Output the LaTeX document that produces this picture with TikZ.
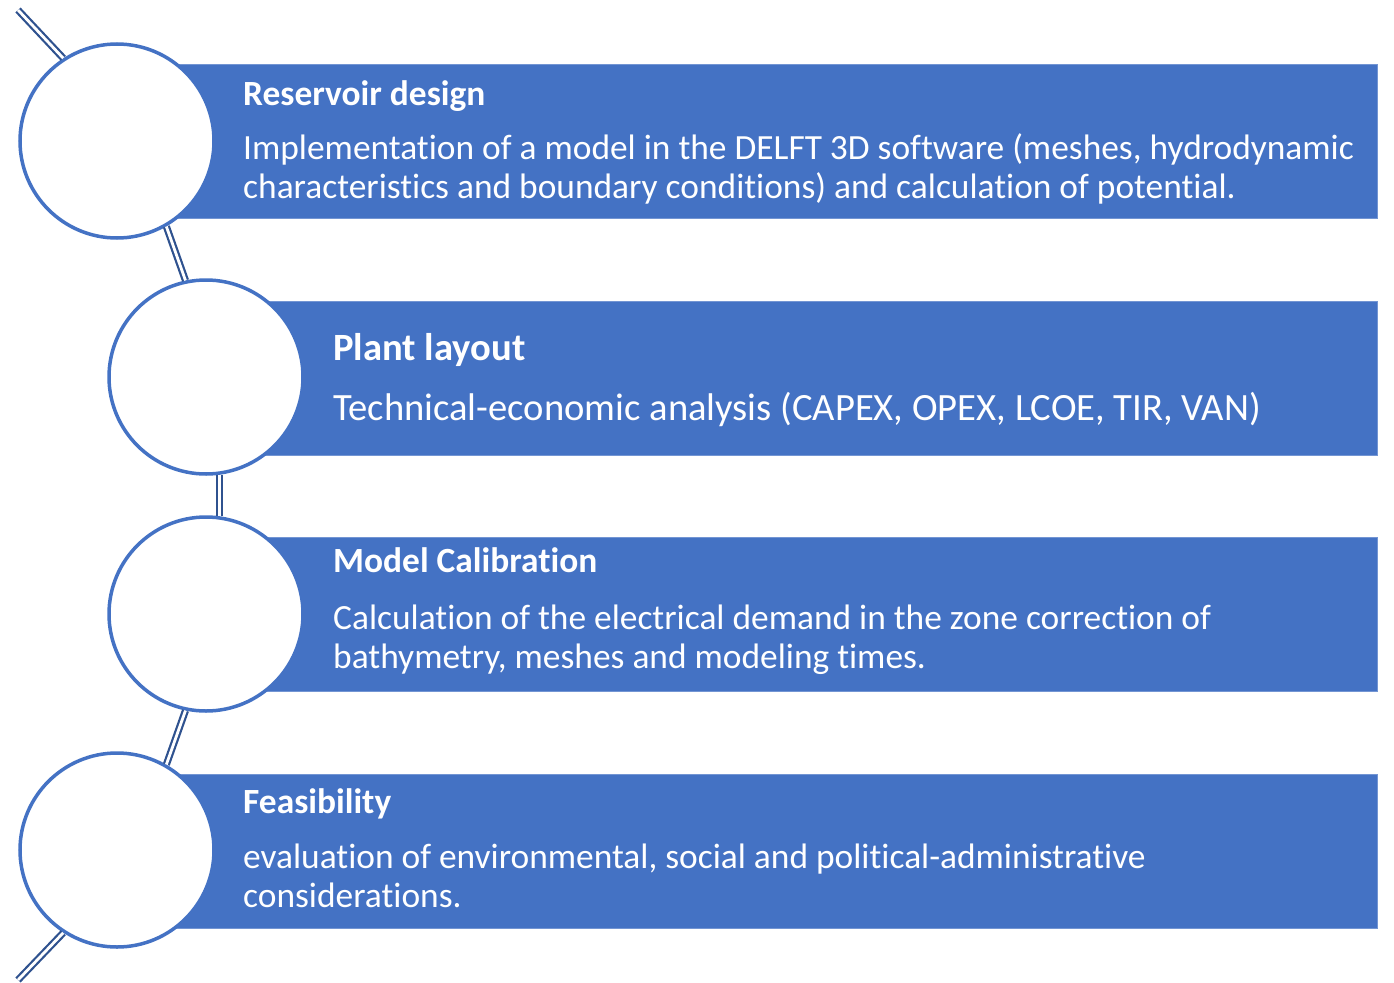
\documentclass[tikz,border=0pt]{standalone}
\usepackage{fontspec}
\setmainfont{Carlito}[RawFeature={-liga;-clig;-dlig;-calt;-rlig}]
\definecolor{acc}{HTML}{4472C4}
\definecolor{conn}{HTML}{2F528F}
\begin{document}
\begin{tikzpicture}[x=1pt,y=-1pt,
  bar/.style={fill=acc, draw=acc!75!white, line width=0.8pt, inner sep=0, minimum height=154pt, anchor=north west},
  disc/.style={circle, draw=acc, fill=white, line width=3.5pt, minimum size=194pt, inner sep=0},
  link/.style={draw=conn, line width=2.2pt, double=white, double distance=2.8pt},
  ttl/.style={text=white, font=\fontsize{35.4}{39}\selectfont\bfseries, anchor=base west, inner sep=0},
  txt/.style={text=white, font=\fontsize{35.4}{39}\selectfont, anchor=base west, inner sep=0, align=left},
  big/.style={font=\fontsize{38.6}{42}\selectfont},
  bigb/.style={font=\fontsize{38.6}{42}\selectfont\bfseries}]
\useasboundingbox (0,0) rectangle (1394,982);
% bars
\node[bar, minimum width=1260pt] (r1) at (117,64) {};
\node[bar, minimum width=1171pt] (r2) at (206,301) {};
\node[bar, minimum width=1171pt] (r3) at (206,537) {};
\node[bar, minimum width=1260pt] (r4) at (117,774) {};
% free ends
\coordinate (top) at (18,10);
\coordinate (bot) at (18,980);
% circles
\node[disc] (c1) at (117,141) {};
\node[disc] (c2) at (206,377) {};
\node[disc] (c3) at (206,614) {};
\node[disc] (c4) at (117,850) {};
% connectors
\draw[link] (top) -- (c1.123);
\draw[link] (c1.-60) -- (c2.102);
\draw[link] (c2.-82) -- (c3.82);
\draw[link] (c3.-102) -- (c4.60);
\draw[link] (c4.-123) -- (bot);
% texts (multi-line nodes: base = last line)
\node[ttl] (t1) at (243,105) {Reservoir design};
\node[txt] (b1) at (243,198) {Implementation of a model in the DELFT 3D software (meshes, hydrodynamic\\characteristics and boundary conditions) and calculation of potential.};
\node[ttl, bigb] (t2) at (333,360) {Plant layout};
\node[txt, big] (b2) at (333,420) {Technical-economic analysis (CAPEX, OPEX, LCOE, TIR, VAN)};
\node[ttl] (t3) at (333,572) {Model Calibration};
\node[txt] (b3) at (333,668) {Calculation of the electrical demand in the zone correction of\\bathymetry, meshes and modeling times.};
\node[ttl] (t4) at (243,813) {Feasibility};
\node[txt] (b4) at (243,907) {evaluation of environmental, social and political-administrative\\considerations.};
\end{tikzpicture}
\end{document}
